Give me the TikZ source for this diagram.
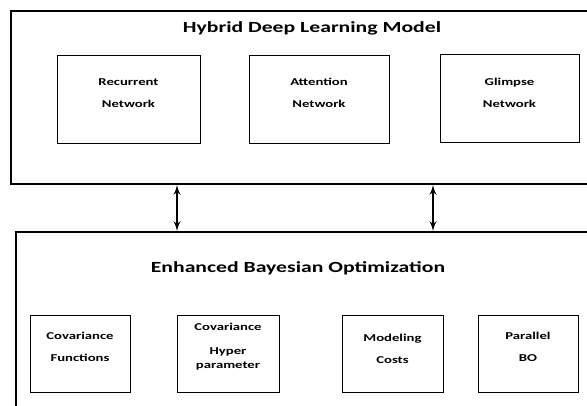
\documentclass[tikz,border=0pt]{standalone}
\usepackage{fontspec}
\setmainfont{Carlito}
\usepackage{graphicx}
\usepackage{tikz}
\usetikzlibrary{arrows}
\newcommand{\sx}[1]{\scalebox{1.4}[1]{#1}}

\begin{document}
\begin{tikzpicture}[x=1pt,y=-1pt
  ,>=latex'
  ,semithick]
  \tikzstyle{outer}=[draw,line width=1.6pt,inner sep=0pt]
  \tikzstyle{cell}=[draw,line width=0.8pt,inner sep=0pt]
  \tikzstyle{title}=[font={\bfseries\fontsize{15.5}{18}\selectfont}]
  \tikzstyle{txt}=[align=center,font={\bfseries\fontsize{10.5}{22}\selectfont}]
  \tikzstyle{dbl}=[<->,line width=2.4pt]

  \clip (0,0) rectangle (587,405);
  \fill[white] (0,0) rectangle (587,405);

  % the two big blocks
  \node[outer,minimum width=578pt,minimum height=173pt] (hdl) at (300,97.5) {};
  \node[outer,minimum width=574pt,minimum height=180pt] (ebo) at (303,322) {};
  \node[title] (hdlt) at (312,28) {\sx{Hybrid Deep Learning Model}};
  \node[title] (ebot) at (298,268) {\sx{Enhanced Bayesian Optimization}};

  % 3 networks top
  \node[cell,minimum width=143pt,minimum height=88pt] (rn) at (128.5,99) {};
  \node[cell,minimum width=140pt,minimum height=88pt] (an) at (319,99) {};
  \node[cell,minimum width=139pt,minimum height=88pt] (gn) at (509.5,98) {};
  \node[txt] (rnt) at (128.5,93) {\sx{Recurrent}\\\sx{Network}};
  \node[txt] (ant) at (319,93) {\sx{Attention}\\\sx{Network}};
  \node[txt] (gnt) at (509.5,93) {\sx{Glimpse}\\\sx{Network}};

  % 4 parts btm
  \node[cell,minimum width=100pt,minimum height=77pt] (cf) at (80,353.5) {};
  \node[cell,minimum width=102pt,minimum height=77pt] (ch) at (228,353.5) {};
  \node[cell,minimum width=101pt,minimum height=77pt] (mc) at (392.5,353.5) {};
  \node[cell,minimum width=100pt,minimum height=77pt] (pb) at (528,353.5) {};
  \node[txt] (cft) at (80,347) {\sx{Covariance}\\\sx{Functions}};
  \node[txt,font={\bfseries\fontsize{10.5}{14}\selectfont}] (cht) at (228,347)
    {\sx{Covariance}\\[10pt]\sx{Hyper}\\\sx{parameter}};
  \node[txt] (mct) at (392.5,348.5) {\sx{Modeling}\\\sx{Costs}};
  \node[txt] (pbt) at (528,347) {\sx{Parallel}\\\sx{BO}};

  \coordinate (al) at (177,0);
  \coordinate (ar) at (433,0);
  \draw[dbl] (hdl.south -| al) -- (ebo.north -| al);
  \draw[dbl] (hdl.south -| ar) -- (ebo.north -| ar);

\end{tikzpicture}
\end{document}
